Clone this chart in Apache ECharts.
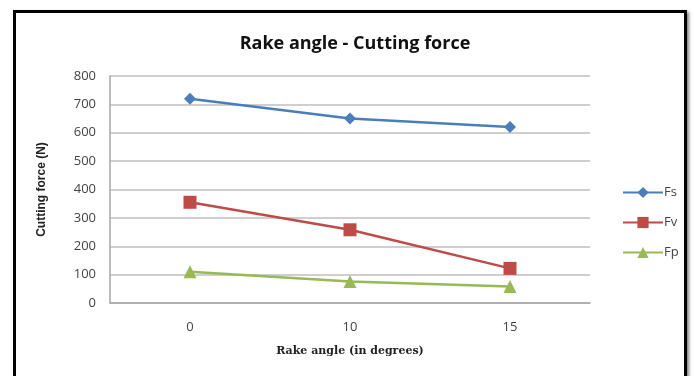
<!DOCTYPE html>
<html>
<head>
<meta charset="utf-8">
<script src="https://cdn.jsdelivr.net/npm/echarts@6/dist/echarts.min.js"></script>
<style>
  html, body { margin: 0; padding: 0; background: #fff; }
  #wrap { position: relative; width: 694px; height: 376px; overflow: hidden; }
  #frame {
    position: absolute; left: 13px; top: 10px; width: 668px; height: 380px;
    border: 3px solid #000; box-shadow: 2px 2px 3px rgba(0,0,0,0.5);
  }
  #chart { position: absolute; left: 0; top: 0; width: 694px; height: 376px; }
</style>
</head>
<body>
<div id="wrap">
  <div id="frame"></div>
  <div id="chart"></div>
</div>
<script>
  // rake angle (degrees)
  var categories = ['0', '10', '15']
  // cutting force components (N)
  var fs = [720, 650, 620]
  var fv = [355, 258, 122]
  var fp = [110, 76, 58]

  var chart = echarts.init(document.getElementById('chart'))

  var option = {
    animation: false,
    title: {
      text: 'Rake angle - Cutting force',
      left: 350,
      top: 30,
      textAlign: 'center',
      textStyle: { fontFamily: 'Open Sans', fontWeight: 'bold', fontSize: 18, color: '#111' }
    },
    legend: {
      orient: 'vertical',
      left: 617,
      top: 181,
      itemGap: 17,
      itemWidth: 40,
      itemHeight: 14,
      textStyle: { fontFamily: 'Open Sans', fontSize: 13, color: '#444', padding: [0, 0, 0, -4] },
      data: ['Fs', 'Fv', 'Fp']
    },
    grid: { left: 110, right: 104, top: 76, bottom: 73 },
    xAxis: {
      type: 'category',
      data: categories,
      boundaryGap: true,
      name: 'Rake angle (in degrees)',
      nameLocation: 'middle',
      nameGap: 43,
      nameTextStyle: { fontFamily: 'DejaVu Serif', fontWeight: 'bold', fontSize: 11, color: '#222' },
      axisLine: { lineStyle: { color: '#a6a6a6', width: 1.5 } },
      axisTick: { show: false },
      axisLabel: { margin: 18, fontFamily: 'Open Sans', fontSize: 13, color: '#444' }
    },
    yAxis: {
      type: 'value',
      min: 0,
      max: 800,
      interval: 100,
      name: 'Cutting force (N)',
      nameLocation: 'middle',
      nameGap: 62,
      nameTextStyle: { fontFamily: 'Liberation Sans', fontWeight: 'bold', fontSize: 12, color: '#222' },
      axisLine: { show: true, lineStyle: { color: '#a6a6a6', width: 1.5 } },
      axisTick: { show: false },
      axisLabel: { margin: 14, fontFamily: 'Open Sans', fontSize: 13, color: '#444' },
      splitLine: { lineStyle: { color: '#bfbfbf', width: 1.5 } }
    },
    series: [
      {
        name: 'Fs', type: 'line', data: fs,
        symbol: 'diamond', symbolSize: 12,
        lineStyle: { color: '#4a7ebb', width: 2.5 },
        itemStyle: { color: '#4a7ebb' }
      },
      {
        name: 'Fv', type: 'line', data: fv,
        symbol: 'rect', symbolSize: 13,
        lineStyle: { color: '#be4b48', width: 2.5 },
        itemStyle: { color: '#be4b48' }
      },
      {
        name: 'Fp', type: 'line', data: fp,
        symbol: 'triangle', symbolSize: 13,
        lineStyle: { color: '#98b954', width: 2.5 },
        itemStyle: { color: '#98b954' }
      }
    ]
  }

  chart.setOption(option)
</script>
</body>
</html>
